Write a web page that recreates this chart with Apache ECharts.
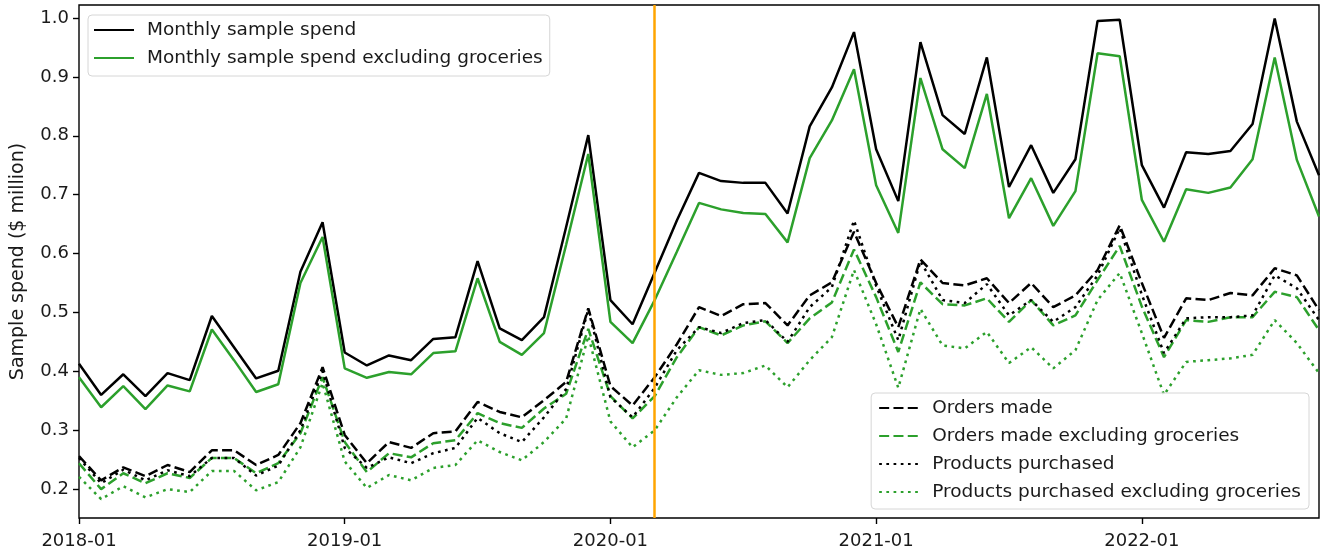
<!DOCTYPE html>
<html><head><meta charset="utf-8">
<script src="https://cdn.jsdelivr.net/npm/echarts@6/dist/echarts.min.js"></script>
<style>html,body{margin:0;padding:0;background:#fff}#c{width:1328px;height:554px}</style>
</head><body><div id="c"></div>
<script>
const months = ['2018-01','2018-02','2018-03','2018-04','2018-05','2018-06','2018-07','2018-08','2018-09','2018-10','2018-11','2018-12',
'2019-01','2019-02','2019-03','2019-04','2019-05','2019-06','2019-07','2019-08','2019-09','2019-10','2019-11','2019-12',
'2020-01','2020-02','2020-03','2020-04','2020-05','2020-06','2020-07','2020-08','2020-09','2020-10','2020-11','2020-12',
'2021-01','2021-02','2021-03','2021-04','2021-05','2021-06','2021-07','2021-08','2021-09','2021-10','2021-11','2021-12',
'2022-01','2022-02','2022-03','2022-04','2022-05','2022-06','2022-07','2022-08','2022-09'];

const spend = [0.413,0.36,0.395,0.358,0.397,0.385,0.494,0.441,0.388,0.401,0.569,0.653,
0.432,0.41,0.427,0.419,0.455,0.458,0.587,0.473,0.453,0.492,0.645,0.801,
0.521,0.48,0.568,0.656,0.737,0.723,0.72,0.72,0.668,0.816,0.882,0.976,
0.777,0.689,0.959,0.835,0.803,0.933,0.713,0.784,0.703,0.76,0.995,0.997,
0.75,0.678,0.772,0.769,0.774,0.82,0.999,0.824,0.733];

const spendExGroc = [0.39,0.339,0.375,0.336,0.376,0.366,0.471,0.419,0.365,0.378,0.55,0.628,
0.405,0.389,0.399,0.395,0.431,0.434,0.558,0.45,0.428,0.465,0.615,0.769,
0.484,0.448,0.521,0.603,0.686,0.675,0.669,0.667,0.619,0.762,0.826,0.913,
0.716,0.635,0.898,0.777,0.745,0.871,0.66,0.728,0.647,0.706,0.94,0.935,
0.691,0.62,0.709,0.703,0.712,0.76,0.933,0.759,0.663];

const orders = [0.256,0.215,0.237,0.222,0.241,0.229,0.266,0.266,0.241,0.258,0.312,0.407,
0.292,0.244,0.28,0.27,0.295,0.298,0.348,0.331,0.322,0.351,0.382,0.507,
0.375,0.342,0.39,0.446,0.509,0.494,0.514,0.516,0.478,0.529,0.551,0.637,
0.55,0.475,0.59,0.55,0.546,0.558,0.516,0.55,0.509,0.529,0.572,0.648,
0.55,0.457,0.524,0.521,0.533,0.529,0.575,0.563,0.504];

const ordersExGroc = [0.244,0.2,0.227,0.21,0.227,0.219,0.253,0.253,0.227,0.244,0.295,0.39,
0.28,0.229,0.261,0.254,0.278,0.283,0.329,0.312,0.304,0.337,0.362,0.472,
0.358,0.32,0.358,0.424,0.475,0.461,0.478,0.485,0.448,0.49,0.517,0.607,
0.526,0.433,0.551,0.514,0.512,0.524,0.484,0.521,0.478,0.495,0.555,0.613,
0.51,0.424,0.487,0.484,0.492,0.492,0.535,0.526,0.47];

const products = [0.253,0.21,0.233,0.215,0.232,0.222,0.253,0.253,0.223,0.24,0.3,0.4,
0.27,0.236,0.254,0.244,0.261,0.27,0.321,0.295,0.28,0.322,0.37,0.505,
0.356,0.322,0.372,0.436,0.475,0.465,0.482,0.487,0.45,0.509,0.543,0.656,
0.545,0.453,0.587,0.521,0.516,0.548,0.495,0.521,0.484,0.509,0.563,0.643,
0.53,0.431,0.49,0.492,0.492,0.495,0.563,0.541,0.487];

const productsExGroc = [0.221,0.183,0.205,0.186,0.2,0.195,0.231,0.231,0.198,0.212,0.271,0.38,
0.247,0.202,0.224,0.215,0.236,0.241,0.283,0.263,0.249,0.28,0.32,0.46,
0.315,0.271,0.3,0.356,0.402,0.394,0.397,0.41,0.373,0.419,0.458,0.572,
0.48,0.372,0.506,0.444,0.439,0.467,0.414,0.441,0.405,0.436,0.521,0.567,
0.465,0.36,0.416,0.419,0.422,0.428,0.487,0.448,0.397];

const eventMonth = '2020-03';

const BLACK = '#000000', GREEN = '#2ca02c', ORANGE = '#ffa500';
const FONT = 'DejaVu Sans';
const TXT = '#1a1a1a';

function line(name, data, color, type) {
  return {
    name, type: 'line', data, showSymbol: false, symbol: 'none', animation: false,
    lineStyle: { color, width: 2.5, type },
    itemStyle: { color },
    emphasis: { disabled: true }
  };
}

const DASH = [10, 4.3], DOT = [2.7, 4.5];
const series = [
  line('Monthly sample spend', spend, BLACK, 'solid'),
  line('Monthly sample spend excluding groceries', spendExGroc, GREEN, 'solid'),
  line('Orders made', orders, BLACK, DASH),
  line('Orders made excluding groceries', ordersExGroc, GREEN, DASH),
  line('Products purchased', products, BLACK, DOT),
  line('Products purchased excluding groceries', productsExGroc, GREEN, DOT)
];
series[0].markLine = {
  silent: true, symbol: ['none', 'none'], animation: false,
  label: { show: false },
  lineStyle: { color: ORANGE, width: 2.5, type: 'solid' },
  data: [{ xAxis: eventMonth }]
};

const legendBase = {
  orient: 'vertical', itemWidth: 40, itemHeight: 14, itemGap: 6,
  backgroundColor: 'rgba(255,255,255,0.8)', borderColor: '#d6d6d6', borderWidth: 1, borderRadius: 4,
  itemStyle: { opacity: 0 },
  textStyle: { fontFamily: FONT, fontSize: 18.5, color: TXT, lineHeight: 22, padding: [0, 0, 0, 8] },
  selectedMode: false
};

const chart = echarts.init(document.getElementById('c'), null, { renderer: 'canvas' });
chart.setOption({
  backgroundColor: '#fff',
  animation: false,
  textStyle: { fontFamily: FONT },
  grid: { left: 79, right: 9, top: 5, bottom: 36, show: true, borderColor: '#000', borderWidth: 1.4, backgroundColor: 'transparent' },
  legend: [
    Object.assign({}, legendBase, {
      left: 88, top: 15, padding: [4, 7, 7, 5],
      data: ['Monthly sample spend', 'Monthly sample spend excluding groceries']
    }),
    Object.assign({}, legendBase, {
      right: 19, top: 393, padding: [4, 8, 6, 7],
      data: ['Orders made', 'Orders made excluding groceries', 'Products purchased', 'Products purchased excluding groceries']
    })
  ],
  xAxis: {
    type: 'category', data: months, boundaryGap: false,
    axisLine: { show: false },
    axisTick: { show: true, interval: 11, length: 6, lineStyle: { color: '#000', width: 1.4 } },
    axisLabel: { interval: 11, fontSize: 18, color: TXT, fontFamily: FONT, margin: 14 },
    splitLine: { show: false }
  },
  yAxis: {
    type: 'value', min: 0.151, max: 1.022, splitNumber: 8,
    name: 'Sample spend ($ million)', nameLocation: 'middle', nameGap: 51,
    nameTextStyle: { fontSize: 19, color: TXT, fontFamily: FONT },
    axisLine: { show: false },
    axisTick: { show: true, length: 6, lineStyle: { color: '#000', width: 1.4 } },
    axisLabel: { fontSize: 18, color: TXT, fontFamily: FONT, margin: 10, showMinLabel: false, showMaxLabel: false,
      formatter: v => v.toFixed(1) },
    splitLine: { show: false }
  },
  series
});
</script>
</body></html>
